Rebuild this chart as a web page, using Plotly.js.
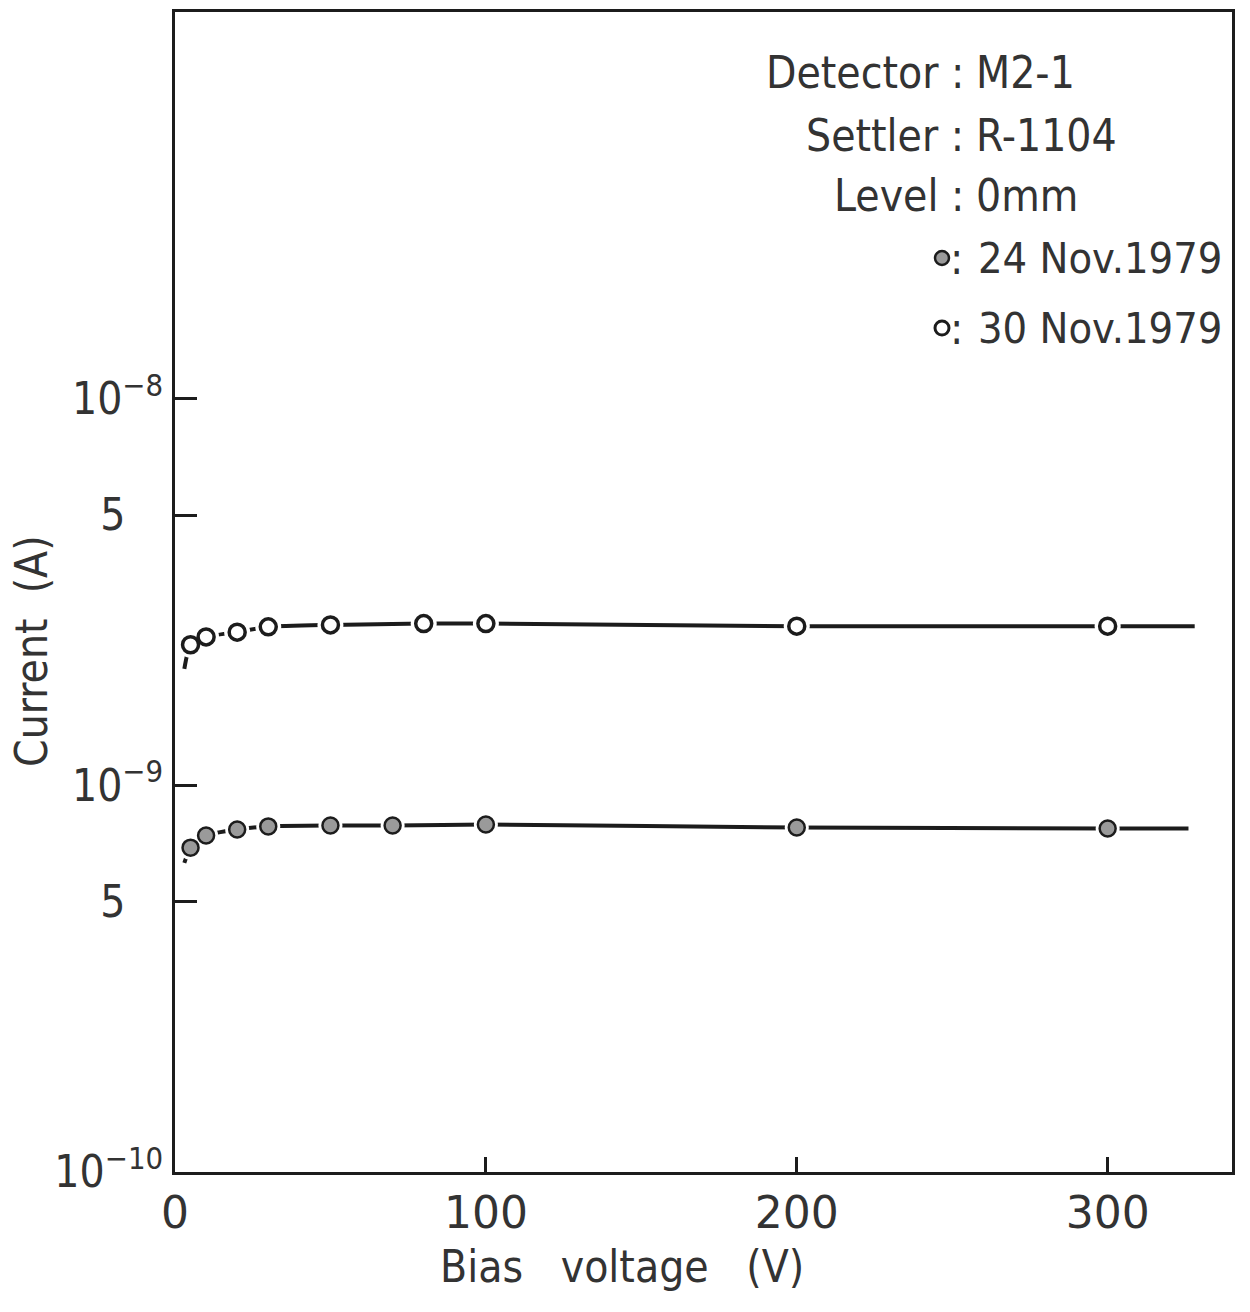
<!DOCTYPE html>
<html>
<head>
<meta charset="utf-8">
<script src="https://cdn.plot.ly/plotly-3.0.1.min.js"></script>
<style>html,body{margin:0;padding:0;background:#fff;}#chart{width:1250px;height:1312px;}</style>
</head>
<body>
<div id="chart"></div>
<script>
// ---- data ----
const openV = [5, 10, 20, 30, 50, 80, 100, 200, 300];            // 30 Nov. 1979 (open circles)
const openI = [2.31e-9, 2.42e-9, 2.49e-9, 2.57e-9, 2.60e-9, 2.62e-9, 2.62e-9, 2.58e-9, 2.58e-9];
const openCurveV = [3, 5, 10, 20, 30, 50, 80, 100, 200, 300, 328];
const openCurveI = [2.0e-9, 2.31e-9, 2.42e-9, 2.49e-9, 2.57e-9, 2.60e-9, 2.62e-9, 2.62e-9, 2.58e-9, 2.58e-9, 2.58e-9];

const fillV = [5, 10, 20, 30, 50, 70, 100, 200, 300];            // 24 Nov. 1979 (filled circles)
const fillI = [6.90e-10, 7.42e-10, 7.69e-10, 7.83e-10, 7.87e-10, 7.87e-10, 7.92e-10, 7.78e-10, 7.73e-10];
const fillCurveV = [3, 5, 10, 20, 30, 50, 70, 100, 200, 300, 326];
const fillCurveI = [6.3e-10, 6.90e-10, 7.42e-10, 7.69e-10, 7.83e-10, 7.87e-10, 7.87e-10, 7.92e-10, 7.78e-10, 7.73e-10, 7.73e-10];

const xTickVals = [0, 100, 200, 300];
const xTickText = ['0', '100', '200', '300'];
const yTickVals = [1e-10, 5e-10, 1e-9, 5e-9, 1e-8];
const yTickText = ['10<sup>−10</sup>', '5\u00a0\u00a0\u00a0', '10<sup>−9</sup>', '5\u00a0\u00a0\u00a0', '10<sup>−8</sup>'];

const infoLabels = ['Detector :', 'Settler :', 'Level :'];
const infoValues = ['M2-1', 'R-1104', '0mm'];
const seriesNames = ['24 Nov.1979', '30 Nov.1979'];

// ---- layout helpers (pixel -> paper) ----
const L = 175, R = 18, T = 12, B = 140, W = 1250, H = 1312;
const PW = W - L - R, PH = H - T - B;
const px = x => (x - L) / PW;
const py = y => (H - B - y) / PH;

const ink = '#1c1c1c';
const txt = '#333333';
const cond = '"DejaVu Sans Condensed", "DejaVu Sans", sans-serif';
const reg = '"DejaVu Sans", sans-serif';

const traces = [
  {x: openCurveV, y: openCurveI, mode: 'lines', line: {color: ink, width: 4, shape: 'spline', smoothing: 0.6}, hoverinfo: 'skip', showlegend: false},
  {x: fillCurveV, y: fillCurveI, mode: 'lines', line: {color: ink, width: 4, shape: 'spline', smoothing: 0.6}, hoverinfo: 'skip', showlegend: false},
  {x: openV, y: openI, mode: 'markers', marker: {size: 26, color: '#ffffff'}, hoverinfo: 'skip', showlegend: false},
  {x: fillV, y: fillI, mode: 'markers', marker: {size: 24, color: '#ffffff'}, hoverinfo: 'skip', showlegend: false},
  {x: openV, y: openI, mode: 'markers', name: seriesNames[1],
   marker: {symbol: 'circle', size: 16, color: '#ffffff', line: {color: ink, width: 3.5}}, showlegend: false},
  {x: fillV, y: fillI, mode: 'markers', name: seriesNames[0],
   marker: {symbol: 'circle', size: 16, color: '#9a9a9a', line: {color: ink, width: 2.5}}, showlegend: false}
];

const annotations = [];
const infoY = [72, 135, 196];
for (let i = 0; i < infoLabels.length; i++) {
  annotations.push({xref: 'paper', yref: 'paper', x: px(966), y: py(infoY[i]), xanchor: 'right', yanchor: 'middle',
    text: infoLabels[i], showarrow: false, font: {family: cond, size: 44, color: txt}});
  annotations.push({xref: 'paper', yref: 'paper', x: px(974), y: py(infoY[i]), xanchor: 'left', yanchor: 'middle',
    text: infoValues[i], showarrow: false, font: {family: cond, size: 44, color: txt}});
}
const legY = [258, 328];
for (let i = 0; i < 2; i++) {
  annotations.push({xref: 'paper', yref: 'paper', x: px(956), y: py(legY[i]), xanchor: 'center', yanchor: 'middle',
    text: ':', showarrow: false, font: {family: cond, size: 44, color: txt}});
  annotations.push({xref: 'paper', yref: 'paper', x: px(976), y: py(legY[i]), xanchor: 'left', yanchor: 'middle',
    text: seriesNames[i], showarrow: false, font: {family: cond, size: 43, color: txt}});
}
// axis titles
annotations.push({xref: 'paper', yref: 'paper', x: px(622), y: py(1266), xanchor: 'center', yanchor: 'middle',
  text: 'Bias\u00a0\u00a0\u00a0voltage\u00a0\u00a0\u00a0(V)', showarrow: false, font: {family: cond, size: 44, color: txt}});
annotations.push({xref: 'paper', yref: 'paper', x: px(31), y: py(651), xanchor: 'center', yanchor: 'middle', textangle: -90,
  text: 'Current\u00a0\u00a0(A)', showarrow: false, font: {family: cond, size: 44, color: txt}});

const shapes = [
  {type: 'circle', xref: 'paper', yref: 'paper', xsizemode: 'pixel', ysizemode: 'pixel',
   xanchor: px(942), yanchor: py(legY[0]), x0: -7, x1: 7, y0: -7, y1: 7,
   fillcolor: '#9a9a9a', line: {color: ink, width: 2.5}},
  {type: 'circle', xref: 'paper', yref: 'paper', xsizemode: 'pixel', ysizemode: 'pixel',
   xanchor: px(942), yanchor: py(legY[1]), x0: -7, x1: 7, y0: -7, y1: 7,
   fillcolor: '#ffffff', line: {color: ink, width: 3}}
];

const layout = {
  width: W, height: H,
  margin: {l: L, r: R, t: T, b: B, pad: 0},
  paper_bgcolor: '#ffffff', plot_bgcolor: '#ffffff',
  showlegend: false,
  xaxis: {
    range: [0, 340], tickvals: xTickVals, ticktext: xTickText,
    showline: true, mirror: true, linecolor: ink, linewidth: 3,
    ticks: 'inside', ticklen: 15, tickwidth: 3, tickcolor: ink,
    showgrid: false, zeroline: false,
    tickfont: {family: reg, size: 44, color: txt}
  },
  yaxis: {
    type: 'log', range: [-10, -7], tickvals: yTickVals, ticktext: yTickText,
    showline: true, mirror: true, linecolor: ink, linewidth: 3,
    ticks: 'inside', ticklen: 22, tickwidth: 3, tickcolor: ink,
    showgrid: false, zeroline: false,
    tickfont: {family: cond, size: 44, color: txt}
  },
  annotations: annotations,
  shapes: shapes
};

Plotly.newPlot('chart', traces, layout, {displayModeBar: false, staticPlot: true});
</script>
</body>
</html>
